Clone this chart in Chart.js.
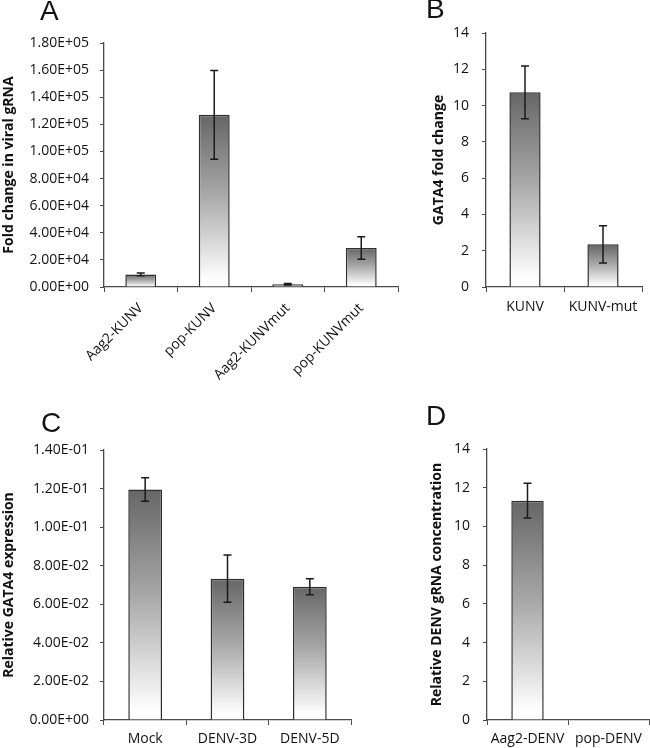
<!DOCTYPE html>
<html><head><meta charset="utf-8">
<script src="https://cdn.jsdelivr.net/npm/chart.js@4.4.0/dist/chart.umd.min.js"></script>
<style>
html,body{margin:0;padding:0;background:#fff;width:650px;height:748px;overflow:hidden;position:relative;}
canvas{position:absolute;}
.lbl{position:absolute;font-family:"Liberation Sans",Arial,sans-serif;font-size:28px;color:#111;line-height:1;}
</style></head><body>
<canvas id="cA" width="400" height="380" style="left:0;top:0"></canvas>
<canvas id="cB" width="250" height="380" style="left:400px;top:0"></canvas>
<canvas id="cC" width="400" height="368" style="left:0;top:380px"></canvas>
<canvas id="cD" width="250" height="368" style="left:400px;top:380px"></canvas>
<div class="lbl" style="left:40px;top:-3px">A</div>
<div class="lbl" style="left:426px;top:-5px">B</div>
<div class="lbl" style="left:41px;top:409px">C</div>
<div class="lbl" style="left:426px;top:402px">D</div>
<script>
// ---- data ----
const catsA = ['Aag2-KUNV', 'pop-KUNV', 'Aag2-KUNVmut', 'pop-KUNVmut'];
const valsA = [9300, 127000, 2000, 28800];
const errA  = [1000, 32700, 500, 8300];
const ticksA = ['0.00E+00','2.00E+04','4.00E+04','6.00E+04','8.00E+04','1.00E+05','1.20E+05','1.40E+05','1.60E+05','1.80E+05'];

const catsB = ['KUNV', 'KUNV-mut'];
const valsB = [10.73, 2.35];
const errB  = [1.45, 1.03];
const ticksB = ['0','2','4','6','8','10','12','14'];

const catsC = ['Mock', 'DENV-3D', 'DENV-5D'];
const valsC = [0.1195, 0.0733, 0.0691];
const errC  = [0.0061, 0.0123, 0.0042];
const ticksC = ['0.00E+00','2.00E-02','4.00E-02','6.00E-02','8.00E-02','1.00E-01','1.20E-01','1.40E-01'];

const catsD = ['Aag2-DENV', 'pop-DENV'];
const valsD = [11.33, 0];
const errD  = [0.9, 0];
const ticksD = ['0','2','4','6','8','10','12','14'];

const FONT = '"Open Sans", "DejaVu Sans", sans-serif';
const TXT = '#111';
const AX = '#4a4a4a';

function grad(ctx){
  const chart = ctx.chart;
  if (!chart.chartArea || ctx.type !== 'data') return '#999';
  const y = chart.scales.y;
  const top = y.getPixelForValue(ctx.raw), bot = y.getPixelForValue(0);
  if (!(bot - top > 0.5)) return '#fff';
  const g = chart.ctx.createLinearGradient(0, top, 0, bot);
  g.addColorStop(0, '#666666');
  g.addColorStop(0.45, '#a6a6a6');
  g.addColorStop(0.95, '#fdfdfd');
  g.addColorStop(1, '#ffffff');
  return g;
}

const errPlugin = {
  id: 'errbars',
  afterDatasetsDraw(chart, args, opts){
    const c = chart.ctx, y = chart.scales.y;
    const meta = chart.getDatasetMeta(0);
    const vals = chart.data.datasets[0].data;
    const errs = opts.err;
    c.save();
    c.strokeStyle = '#1a1a1a'; c.lineWidth = 1.5;
    meta.data.forEach((el, i) => {
      const e = errs[i]; if (!e) return;
      const x = el.x;
      const t = y.getPixelForValue(vals[i] + e), b = y.getPixelForValue(vals[i] - e);
      c.beginPath();
      c.moveTo(x, t); c.lineTo(x, b);
      c.moveTo(x - 4, t); c.lineTo(x + 4, t);
      c.moveTo(x - 4, b); c.lineTo(x + 4, b);
      c.stroke();
    });
    c.restore();
  }
};

function make(id, cats, vals, errs, tickLabels, cfg){
  return new Chart(document.getElementById(id), {
    type: 'bar',
    data: { labels: cats, datasets: [{ data: vals, backgroundColor: grad, borderColor: '#2e2e2e', borderWidth: 1.5, borderSkipped: 'bottom', categoryPercentage: 1, barPercentage: cfg.bp }] },
    options: {
      responsive: false, animation: false, devicePixelRatio: 1,
      layout: { padding: cfg.pad },
      plugins: { legend: { display: false }, tooltip: { enabled: false }, errbars: { err: errs } },
      scales: {
        x: {
          grid: { display: true, offset: true, drawOnChartArea: false, tickLength: 5, color: AX, lineWidth: 1 },
          border: { display: true, color: AX, width: 1.3 },
          ticks: { color: TXT, font: { family: FONT, size: 14 }, padding: cfg.xpad, autoSkip: false, maxRotation: cfg.rot, minRotation: cfg.rot },
          afterFit: s => { s.height = cfg.xh; }
        },
        y: {
          min: 0, max: cfg.max,
          grid: { display: true, drawOnChartArea: false, tickLength: 4, color: AX, lineWidth: 1 },
          border: { display: true, color: AX, width: 1.3 },
          ticks: { stepSize: cfg.step, color: TXT, font: { family: FONT, size: 14 }, padding: cfg.ypad, callback: (v, i) => tickLabels[i] },
          title: { display: true, text: cfg.title, color: TXT, font: { family: FONT, size: 14, weight: 'bold' }, padding: { top: 1, bottom: 0 } },
          afterFit: s => { s.width = cfg.yw; }
        }
      }
    },
    plugins: [errPlugin]
  });
}

make('cA', catsA, valsA, errA, ticksA, { bp: 0.42, pad: { left: 0, top: 43, right: 2, bottom: 0 }, yw: 104, xh: 93, max: 180000, step: 20000, title: 'Fold change in viral gRNA', rot: 45, xpad: 8, ypad: 11 });
make('cB', catsB, valsB, errB, ticksB, { bp: 0.40, pad: { left: 30, top: 33, right: 8, bottom: 0 }, yw: 56, xh: 93, max: 14, step: 2, title: 'GATA4 fold change', rot: 0, xpad: 7, ypad: 13 });
make('cC', catsC, valsC, errC, ticksC, { bp: 0.41, pad: { left: 0, top: 70, right: 49, bottom: 0 }, yw: 104, xh: 28, max: 0.14, step: 0.02, title: 'Relative GATA4 expression', rot: 0, xpad: 6, ypad: 11 });
make('cD', catsD, valsD, errD, ticksD, { bp: 0.40, pad: { left: 28, top: 69, right: 1, bottom: 0 }, yw: 59, xh: 28, max: 14, step: 2, title: 'Relative DENV gRNA concentration', rot: 0, xpad: 6, ypad: 13 });
</script>
</body></html>
